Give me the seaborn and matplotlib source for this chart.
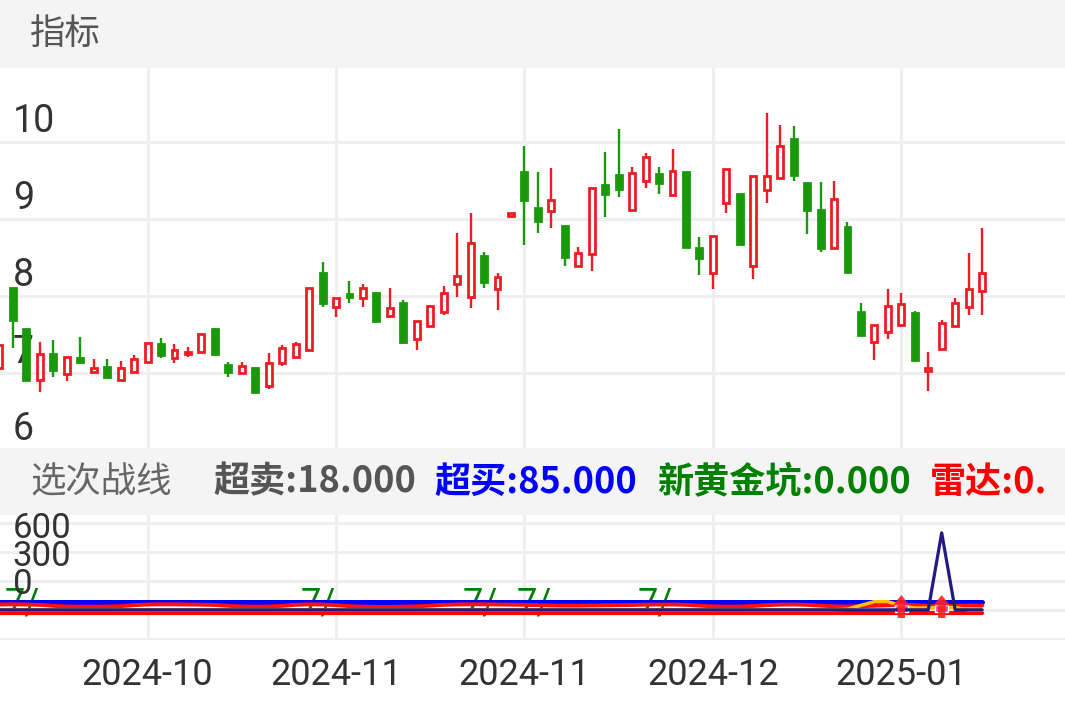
import numpy as np
import matplotlib
matplotlib.use('Agg')
import matplotlib.pyplot as plt
from matplotlib.patches import Rectangle
import seaborn as sns

# --- 数据: K线 (开/高/低/收) ---
open_ = [7.06, 8.10, 7.57, 6.91, 7.25, 6.99, 7.19, 7.01, 7.08, 6.91,
         7.01, 7.14, 7.38, 7.19, 7.25, 7.27, 7.57, 7.10, 7.00, 7.06,
         6.83, 7.13, 7.21, 7.30, 8.30, 7.86, 8.03, 7.97, 8.04, 7.74,
         7.91, 7.44, 7.61, 7.79, 8.16, 7.99, 8.52, 8.09, 9.04, 9.61,
         9.14, 9.10, 8.91, 8.39, 8.55, 9.44, 9.57, 9.12, 9.49, 9.58,
         9.31, 9.61, 8.62, 8.30, 9.21, 9.32, 8.39, 9.38, 9.53, 10.04,
         9.47, 9.12, 8.62, 8.90, 7.79, 7.40, 7.53, 7.62, 7.78, 7.03,
         7.31, 7.61, 7.86, 8.06]
high = [7.36, 8.10, 7.57, 7.40, 7.43, 7.21, 7.47, 7.18, 7.18, 7.16,
        7.23, 7.39, 7.45, 7.38, 7.34, 7.51, 7.58, 7.14, 7.14, 7.06,
        7.26, 7.36, 7.40, 8.10, 8.44, 7.97, 8.19, 8.16, 8.04, 8.10,
        7.95, 7.68, 7.88, 8.13, 8.82, 9.08, 8.57, 8.30, 9.08, 9.95,
        9.61, 9.66, 8.91, 8.64, 9.40, 9.87, 10.17, 9.68, 9.86, 9.68,
        9.91, 9.61, 8.77, 8.78, 9.65, 9.32, 9.56, 10.38, 10.22, 10.21,
        9.47, 9.48, 9.49, 8.96, 7.91, 7.62, 8.09, 8.04, 7.81, 7.27,
        7.69, 7.97, 8.56, 8.88]
low = [7.06, 7.32, 6.91, 6.75, 6.95, 6.90, 7.13, 7.00, 6.95, 6.91,
       7.00, 7.14, 7.19, 7.13, 7.21, 7.27, 7.25, 6.95, 7.00, 6.74,
       6.79, 7.09, 7.19, 7.30, 7.86, 7.73, 7.91, 7.86, 7.68, 7.74,
       7.38, 7.30, 7.61, 7.75, 7.99, 7.84, 8.10, 7.82, 9.04, 8.66,
       8.82, 8.88, 8.39, 8.39, 8.32, 9.03, 9.29, 9.12, 9.40, 9.32,
       9.31, 8.64, 8.27, 8.09, 9.08, 8.68, 8.22, 9.21, 9.53, 9.49,
       8.81, 8.57, 8.62, 8.31, 7.49, 7.17, 7.44, 7.60, 7.17, 6.77,
       7.31, 7.61, 7.75, 7.75]
close = [7.36, 7.69, 6.91, 7.25, 7.04, 7.21, 7.14, 7.06, 6.95, 7.06,
         7.18, 7.39, 7.23, 7.30, 7.27, 7.51, 7.25, 7.01, 7.09, 6.75,
         7.13, 7.32, 7.38, 8.10, 7.91, 7.97, 7.99, 8.10, 7.68, 7.84,
         7.40, 7.68, 7.87, 8.04, 8.26, 8.69, 8.18, 8.25, 9.08, 9.25,
         8.97, 9.25, 8.51, 8.56, 9.40, 9.32, 9.39, 9.60, 9.81, 9.47,
         9.62, 8.64, 8.49, 8.78, 9.65, 8.68, 9.56, 9.56, 9.95, 9.57,
         9.12, 8.62, 9.26, 8.31, 7.49, 7.62, 7.87, 7.90, 7.17, 7.06,
         7.65, 7.91, 8.09, 8.30]
price_ticks = [6, 7, 8, 9, 10]

# 日期刻度
date_idx = [11, 25, 39, 53, 67]
date_labels = ['2024-10', '2024-11', '2024-11', '2024-12', '2025-01']

# --- 数据: 选次战线 指标 ---
oversold = 18.0
overbought = 85.0
wave_line = [70, 71, 70, 68, 62, 58, 57, 57, 58, 60,
             66, 70, 71, 71, 70, 69, 67, 62, 58, 57,
             58, 62, 68, 71, 70, 66, 60, 57, 56, 56,
             57, 59, 63, 68, 70, 71, 71, 70, 69, 68,
             66, 64, 63, 63, 64, 65, 66, 67, 69, 70,
             70, 68, 63, 59, 57, 58, 61, 66, 69, 70,
             68, 63, 59, 58, 60, 62, 65, 68, 66, 62,
             60, 62, 64, 63]
radar_line = [38] * 70 + [500, 38, 38, 38]
gold_line = [38] * 63 + [42, 65, 87, 87, 62, 49, 49, 52, 52, 37, 37]
buy_signal_idx = [67, 70]
mark_idx = [1, 23, 35, 39, 48]
ind_labels = ['600', '300', '0']
ind_label_vals = [529, 355, 187]

RED = '#ee1c24'
GREEN = '#1a990a'
GRID = '#efeff2'

sns.set_style('white')
plt.rcParams['font.family'] = ['Roboto', 'Noto Sans CJK SC', 'DejaVu Sans']

fig = plt.figure(figsize=(10.65, 7.08), dpi=100)
H = 708.0


def box(top, bottom):
    return [0, 1 - bottom / H, 1, (bottom - top) / H]


def gray_bar(ax):
    ax.set_axis_off()
    ax.add_patch(Rectangle((0, 0), 1, 1, transform=ax.transAxes,
                           color='#f4f4f4'))


ax_h1 = fig.add_axes(box(0, 68))
gray_bar(ax_h1)
ax_main = fig.add_axes(box(68, 450))
ax_h2 = fig.add_axes(box(448, 515))
gray_bar(ax_h2)
ax_ind = fig.add_axes(box(515, 640))

cjk = ['Noto Sans CJK SC', 'DejaVu Sans']
fig.text(30 / 1065, 1 - 34 / H, '指标', fontsize=25.5, color='#555555',
         va='center', family=cjk)

# --- K线 ---
o = np.array(open_)
c = np.array(close)
x = np.arange(len(o))
up = c >= o
cols = np.where(up, RED, GREEN)
faces = np.where(up, 'white', GREEN)
ax_main.vlines(x, low, high, colors=cols, lw=1.7, zorder=3)
ax_main.bar(x, np.abs(c - o), bottom=np.minimum(o, c), width=0.44,
            color=faces, edgecolor=cols, linewidth=2.0, zorder=4)

xlim = (0.037, 79.16)
ax_main.set_xlim(xlim)
ax_main.set_ylim(6.0, 10.96)
ax_main.set_xticks(date_idx)
ax_main.set_yticks(price_ticks[1:])
ax_main.grid(True, color=GRID, lw=2.2, zorder=0)
ax_main.tick_params(length=0, labelbottom=False, labelleft=False)
for s in ax_main.spines.values():
    s.set_visible(False)
for v in price_ticks:
    ax_main.annotate(str(v), xy=(0.012, v), xycoords=('axes fraction', 'data'),
                     xytext=(0, 7), textcoords='offset points', ha='left',
                     va='baseline', fontsize=27, color='#333333', zorder=1,
                     annotation_clip=False)

# --- 指标标题 ---
hy = 1 - 482 / H
fig.text(30 / 1065, hy, '选次战线', fontsize=25.5, color='#666666', va='center', family=cjk)
fig.text(213 / 1065, hy, f'超卖:{oversold:.3f}', fontsize=26, color='#555555',
         va='center', weight='bold', family=cjk)
fig.text(434 / 1065, hy, f'超买:{overbought:.3f}', fontsize=26, color='#0000ff',
         va='center', weight='bold', family=cjk)
fig.text(657 / 1065, hy, '新黄金坑:0.000', fontsize=26, color='#008000',
         va='center', weight='bold', family=cjk)
fig.text(930 / 1065, hy, '雷达:0.', fontsize=26, color='#ff0000',
         va='center', weight='bold', family=cjk)

# --- 指标面板 ---
for i in mark_idx:
    ax_ind.text(i - 0.6, 17, '7/', color='#008000', fontsize=26,
                ha='left', va='baseline', zorder=1)
sns.lineplot(x=x, y=np.full(len(x), overbought), ax=ax_ind, color='#0000ff',
             lw=3.6, zorder=2)
sns.lineplot(x=x, y=wave_line, ax=ax_ind, color='#ff1010', lw=2.8, zorder=3)
sns.lineplot(x=x, y=np.full(len(x), oversold), ax=ax_ind, color='#ff0000',
             lw=3.0, zorder=3)
sns.lineplot(x=x, y=gold_line, ax=ax_ind, color='#f7c100', lw=2.5, zorder=4)
ax_ind.bar(buy_signal_idx, 42, bottom=25, width=1.0, color='#e0409f', zorder=4.5)
sns.lineplot(x=x, y=radar_line, ax=ax_ind, color='#221a80', lw=2.3, zorder=5)
for i in buy_signal_idx:
    ax_ind.annotate('', xy=(i, 127), xytext=(i, -11),
                    arrowprops=dict(arrowstyle='simple,head_length=0.5,head_width=0.8,tail_width=0.35',
                                    color='#ff2020', mutation_scale=15, lw=0,
                                    alpha=0.9, shrinkA=0, shrinkB=0), zorder=6)

ax_ind.set_xlim(xlim)
ax_ind.set_ylim(-143, 607)
ax_ind.set_yticks([-137, 37, 211, 385, 559])
ax_ind.set_xticks(date_idx, labels=date_labels)
ax_ind.grid(True, color=GRID, lw=2.2, zorder=0)
ax_ind.set_axisbelow(True)
ax_ind.tick_params(axis='y', length=0, labelleft=False)
ax_ind.tick_params(axis='x', length=0, pad=12, labelsize=26, labelcolor='#333333')
ax_ind.set_xlabel('')
ax_ind.set_ylabel('')
for s in ax_ind.spines.values():
    s.set_visible(False)
for lab, v in zip(ind_labels, ind_label_vals):
    ax_ind.annotate(lab, xy=(0.012, v), xycoords=('axes fraction', 'data'),
                    ha='left', va='center', fontsize=25, color='#333333',
                    zorder=1, annotation_clip=False)

fig.savefig('out.png', dpi=100, facecolor='white')
